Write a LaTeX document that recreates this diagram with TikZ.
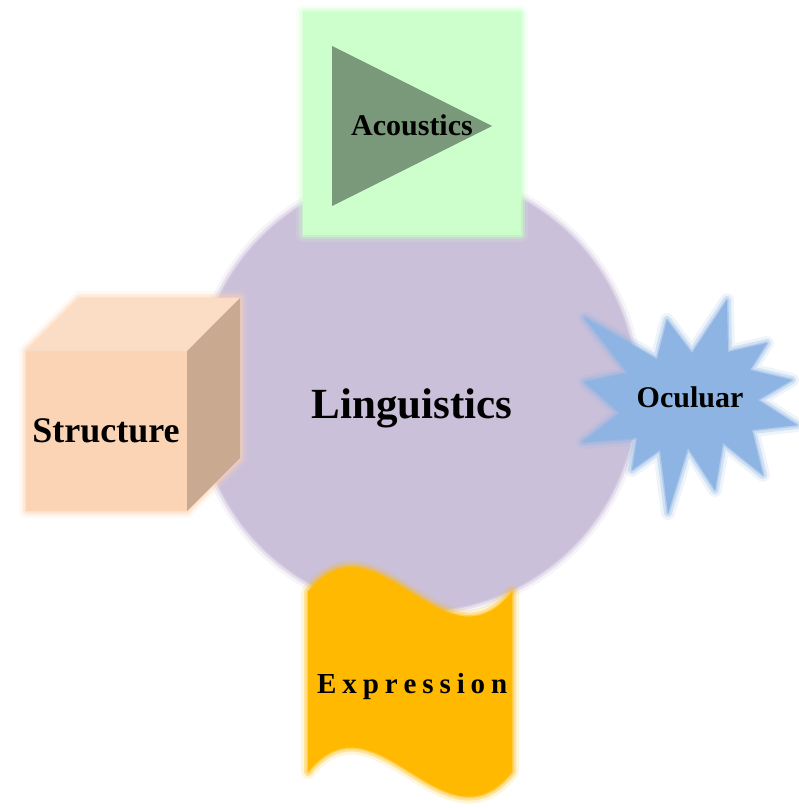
\documentclass[tikz,border=0pt]{standalone}
\usepackage{fontspec}
\setmainfont{Liberation Serif}
\definecolor{circ}{RGB}{203,192,218}
\definecolor{circedge}{RGB}{194,180,212}
\definecolor{grn}{RGB}{204,255,204}
\definecolor{tri}{RGB}{122,153,122}
\definecolor{peachF}{RGB}{251,212,181}
\definecolor{peachT}{RGB}{251,221,198}
\definecolor{peachS}{RGB}{201,169,144}
\definecolor{blu}{RGB}{141,180,226}
\definecolor{org}{RGB}{255,185,0}
\newcommand\Xsp{\kern5.9pt}
\tikzset{
  glow/.style={line join=round,
    preaction={draw=#1,line join=round,line width=14pt,opacity=0.15},
    preaction={draw=#1,line join=round,line width=8pt,opacity=0.3},
    preaction={draw=#1,line join=round,line width=3pt,opacity=0.5}},
  lab/.style={text=black,inner sep=0pt,anchor=base},
}
\begin{document}
\begin{tikzpicture}[x=1pt,y=-1pt]
\useasboundingbox (0,0) rectangle (799,808);
% central circle
\path[glow=circedge,fill=circ] (417,392) circle[radius=219];
% acoustics square
\path[glow=grn,fill=grn] (303,12) rectangle (521,235);
\fill[tri] (332,46) -- (332,206) -- (492,126) -- cycle;
% structure cube
\path[glow=peachF] (26,511) -- (26,351) -- (79,298) -- (240,298) -- (240,458) -- (187,511) -- cycle;
\fill[peachF] (26,351) rectangle (187,511);
\fill[peachT] (26,351) -- (79,298) -- (240,298) -- (187,351) -- cycle;
\fill[peachS] (187,351) -- (240,298) -- (240,458) -- (187,511) -- cycle;
% oculuar starburst
\path[glow=blu,fill=blu] (727,300) -- (728,352) -- (767,343) -- (750,370) -- (792,380) -- (758,400)
  -- (797,425) -- (752,430) -- (763,475) -- (723,443) -- (715,490) -- (688,448)
  -- (668,513) -- (660,450) -- (632,470) -- (637,438) -- (583,442) -- (620,413)
  -- (585,382) -- (628,373) -- (585,318) -- (657,359) -- (667,320) -- (692,353) -- cycle;
% expression wave
\path[glow=org,fill=org] (308,592) .. controls (376,507) and (444,677) .. (512,592)
  -- (512,772) .. controls (444,857) and (376,687) .. (308,772) -- cycle;
% labels
\node[lab,font=\bfseries\fontsize{43}{50}\selectfont] (ling) at (412,418) {Linguistics};
\node[lab,font=\bfseries\fontsize{30}{36}\selectfont] (acou) at (412,135) {Acoustics};
\node[lab,font=\bfseries\fontsize{36}{42}\selectfont] (struc) at (106,442) {Structure};
\node[lab,font=\bfseries\fontsize{30}{36}\selectfont] (ocul) at (690,407) {Oculuar};
\node[lab,anchor=base west,font=\bfseries\fontsize{29}{35}\selectfont] (expr) at (317,693)
  {E\Xsp x\Xsp p\Xsp r\Xsp e\Xsp s\Xsp s\Xsp i\Xsp o\Xsp n};
\end{tikzpicture}
\end{document}
